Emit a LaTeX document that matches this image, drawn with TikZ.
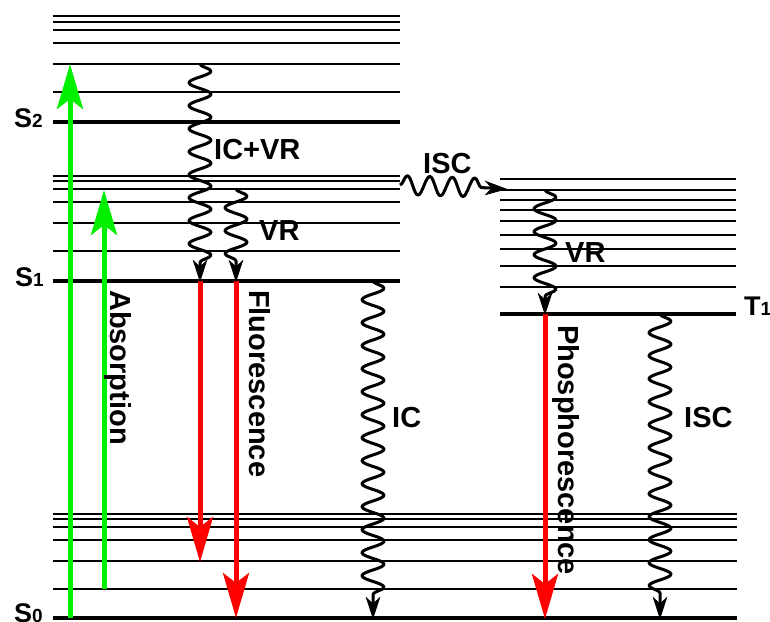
\documentclass[tikz,border=0pt]{standalone}
\usepackage{fontspec}
\setmainfont{Liberation Sans}
\usetikzlibrary{arrows.meta,decorations.pathmorphing,calc}
\definecolor{absgreen}{RGB}{0,240,0}
\definecolor{emred}{RGB}{255,0,0}
\begin{document}
\begin{tikzpicture}[x=1pt,y=-1pt,
  lvl/.style={line width=2pt},
  lvlthick/.style={line width=3.2pt},
  lbl/.style={font=\fontsize{29}{30}\selectfont\bfseries, inner sep=0pt},
  statelbl/.style={font=\fontsize{27}{28}\selectfont\bfseries, inner sep=0pt},
  radup/.style={line width=5pt, draw=absgreen, -{Stealth[length=45pt,width=26pt,inset=10pt,fill=absgreen]}},
  raddown/.style={line width=5pt, draw=emred, -{Stealth[length=45pt,width=26pt,inset=10pt,fill=emred]}},
  wavy/.style={line width=3pt, line join=round,
    decoration={snake, amplitude=11pt, segment length=23pt}},
  wavyh/.style={line width=3pt, line join=round,
    decoration={snake, amplitude=9.5pt, segment length=22.5pt}},
  headfill/.style={fill=black, draw=black, line width=0.8pt, line join=miter}
]
\useasboundingbox (0,0) rectangle (770,621);
% S0 manifold (full width)
\foreach \yy in {589,561,540,527,519,514} \draw[lvl] (53,\yy) -- (737,\yy);
\draw[lvlthick] (53,618) -- (737,618);
% S1 manifold
\foreach \yy in {251,223,202,189,181,176} \draw[lvl] (53,\yy) -- (400,\yy);
\draw[lvlthick] (53,281) -- (400,281);
% S2 manifold
\foreach \yy in {92,64,43,30,22,16} \draw[lvl] (53,\yy) -- (400,\yy);
\draw[lvlthick] (53,122) -- (400,122);
% T1 manifold
\foreach \yy in {287,266,249,235,221,210,200,190,179} \draw[lvl] (500,\yy) -- (736,\yy);
\draw[lvlthick] (500,314) -- (736,314);

% state labels
\node[statelbl, anchor=base east] (lS2) at (43,127) {S{\fontsize{19}{19}\selectfont 2}};
\node[statelbl, anchor=base east] (lS1) at (44,286) {S{\fontsize{19}{19}\selectfont 1}};
\node[statelbl, anchor=base east] (lS0) at (43,622) {S{\fontsize{19}{19}\selectfont 0}};
\node[statelbl, anchor=base west] (lT1) at (744,315) {T{\fontsize{19}{19}\selectfont 1}};

% endpoints
\coordinate (a1s) at (70,618);  \coordinate (a1e) at (70,64);
\coordinate (a2s) at (104,589); \coordinate (a2e) at (104,190);
\coordinate (f1s) at (200,281); \coordinate (f1e) at (200,562);
\coordinate (f2s) at (236,281); \coordinate (f2e) at (236,618);
\coordinate (ps) at (545,314);  \coordinate (pe) at (545,619);
\coordinate (icvrs) at (200,64); \coordinate (icvre) at (200,281);
\coordinate (vr1s) at (236,189); \coordinate (vr1e) at (236,281);
\coordinate (iscs) at (400,185); \coordinate (isce) at (506,189);
\coordinate (vr2s) at (545,190); \coordinate (vr2e) at (545,314);
\coordinate (ics) at (373,281);  \coordinate (ice) at (373,618);
\coordinate (isc2s) at (660,314); \coordinate (isc2e) at (660,618);

% radiative transitions
\draw[radup] (a1s) -- (a1e);
\draw[radup] (a2s) -- (a2e);
\draw[raddown] (f1s) -- (f1e);
\draw[raddown] (f2s) -- (f2e);
\draw[raddown] (ps) -- (pe);

% non-radiative transitions (wave, then filled head)
\foreach \s/\e in {icvrs/icvre, vr1s/vr1e, vr2s/vr2e, ics/ice, isc2s/isc2e}{
  \draw[wavy] (\s) decorate {-- ($(\e)+(0,-15)$)};
  \filldraw[headfill] (\e) -- ($(\e)+(-6.5,-20)$) -- ($(\e)+(0,-14)$) -- ($(\e)+(6.5,-20)$) -- cycle;
}
\draw[wavyh] (iscs) decorate {-- ($(isce)+(-14,-1)$)};
\filldraw[headfill] (isce) -- ($(isce)+(-20,-7.5)$) -- ($(isce)+(-14,-1)$) -- ($(isce)+(-20,5.5)$) -- cycle;

% labels
\node[lbl, anchor=base west] (tICVR) at (214,159) {IC+VR};
\node[lbl, anchor=base west] (tVR1) at (259,240) {VR};
\node[lbl, anchor=base west] (tISC1) at (423,173) {ISC};
\node[lbl, anchor=base west] (tVR2) at (565,262) {VR};
\node[lbl, anchor=base west] (tIC) at (392,427) {IC};
\node[lbl, anchor=base west] (tISC2) at (684,427) {ISC};
\node[lbl, anchor=base west, rotate=-90] (tAbs) at (110,290) {Absorption};
\node[lbl, anchor=base west, rotate=-90] (tFl) at (249,290) {Fluorescence};
\node[lbl, anchor=base west, rotate=-90] (tPh) at (558,325) {Phosphorescence};
\end{tikzpicture}
\end{document}
